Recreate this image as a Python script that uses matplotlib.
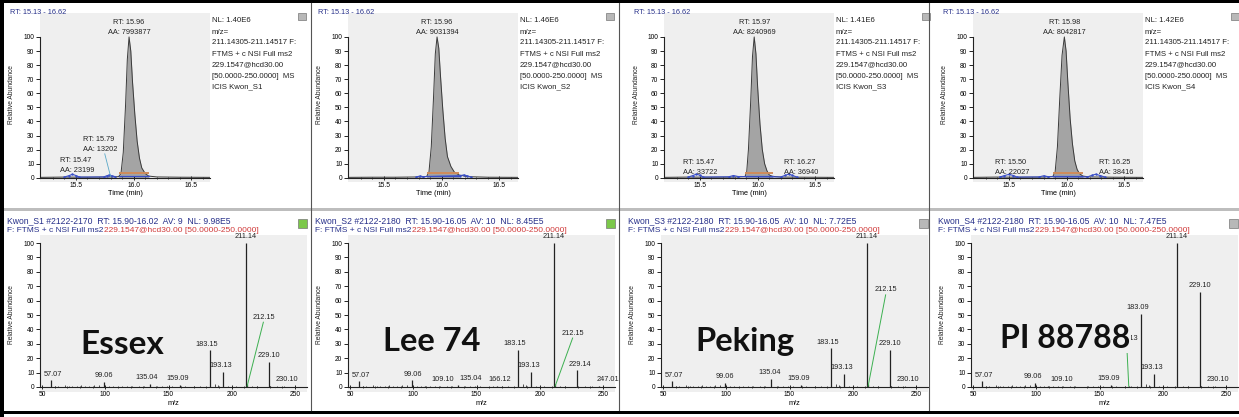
import matplotlib.pyplot as plt
from matplotlib.patches import Rectangle
from matplotlib.lines import Line2D

W, H = 1239, 417
SMALL = 'Liberation Sans'

# ====================== CHROMATOGRAMS (top row) ======================
chrom_nl = ['1.40E6', '1.46E6', '1.41E6', '1.42E6']
chrom_rt = ['15.96', '15.96', '15.97', '15.98']
chrom_aa = ['7993877', '9031394', '8240969', '8042817']

chrom_t = [
    [15.19, 15.40, 15.60, 15.80, 15.87, 15.89, 15.91, 15.93, 15.945, 15.96, 15.975, 15.99, 16.01, 16.03, 16.05, 16.07, 16.10, 16.13, 16.20, 16.40, 16.66],
    [15.19, 15.40, 15.60, 15.80, 15.87, 15.89, 15.91, 15.93, 15.945, 15.96, 15.975, 15.99, 16.01, 16.03, 16.05, 16.08, 16.11, 16.15, 16.22, 16.40, 16.66],
    [15.19, 15.40, 15.60, 15.80, 15.89, 15.905, 15.92, 15.94, 15.955, 15.97, 15.985, 16.00, 16.02, 16.04, 16.06, 16.08, 16.10, 16.13, 16.20, 16.40, 16.66],
    [15.19, 15.40, 15.60, 15.80, 15.88, 15.90, 15.92, 15.94, 15.96, 15.98, 15.995, 16.01, 16.03, 16.05, 16.07, 16.09, 16.11, 16.14, 16.20, 16.40, 16.66],
]
chrom_i = [
    [0.3, 0.5, 0.4, 0.6, 0.8, 3, 18, 52, 84, 100, 90, 68, 45, 26, 14, 7, 3, 1.2, 0.6, 0.4, 0.3],
    [0.3, 0.4, 0.4, 0.6, 0.9, 4, 22, 58, 88, 100, 92, 72, 48, 28, 15, 8, 4, 2, 0.8, 0.4, 0.3],
    [0.3, 0.5, 0.4, 0.5, 0.8, 4, 20, 55, 86, 100, 88, 64, 38, 20, 10, 5, 2, 1, 0.5, 0.4, 0.3],
    [0.3, 0.5, 0.4, 0.5, 0.9, 4, 22, 56, 87, 100, 90, 68, 42, 24, 12, 6, 3, 1.2, 0.6, 0.4, 0.3],
]
# peak integration limits
chrom_lim = [(15.87, 16.13), (15.87, 16.15), (15.89, 16.13), (15.88, 16.14)]

# blue noise around baseline
noise_t = [
    [15.40, 15.44, 15.47, 15.50, 15.53, 15.74, 15.77, 15.79, 15.81, 15.84],
    [15.78, 15.81, 15.84, 16.16, 16.19, 16.22, 16.25],
    [15.40, 15.44, 15.47, 15.50, 15.53, 15.75, 15.79, 15.83, 16.20, 16.24, 16.27, 16.30, 16.34],
    [15.42, 15.46, 15.50, 15.54, 15.57, 15.76, 15.80, 15.84, 16.18, 16.22, 16.25, 16.29, 16.33],
]
noise_i = [
    [0.5, 1.5, 2.5, 1.6, 0.5, 0.6, 1.5, 2.0, 1.4, 0.8],
    [0.6, 1.2, 0.8, 1.5, 2.0, 1.4, 0.6],
    [0.5, 1.6, 2.6, 1.8, 0.5, 0.7, 1.6, 0.9, 0.6, 1.8, 2.6, 1.7, 0.5],
    [0.5, 1.5, 2.4, 1.6, 0.5, 0.6, 1.4, 0.8, 0.6, 1.8, 2.5, 1.6, 0.5],
]

# minor peak annotations: (text1, text2, x, y)
minor_labels = [
    [('RT: 15.79', 'AA: 13202', 15.56, 27), ('RT: 15.47', 'AA: 23199', 15.36, 12)],
    [],
    [('RT: 15.47', 'AA: 33722', 15.35, 11), ('RT: 16.27', 'AA: 36940', 16.23, 11)],
    [('RT: 15.50', 'AA: 22027', 15.38, 11), ('RT: 16.25', 'AA: 38416', 16.28, 11)],
]

# ====================== SPECTRA (bottom row) ======================
varieties = ['Essex', 'Lee 74', 'Peking', 'PI 88788']
variety_size = [24, 23.5, 23.5, 23]
variety_xy = [(0.308, 0.30), (0.315, 0.32), (0.315, 0.32), (0.354, 0.34)]
spec_head1 = [
    'Kwon_S1 #2122-2170  RT: 15.90-16.02  AV: 9  NL: 9.98E5',
    'Kwon_S2 #2122-2180  RT: 15.90-16.05  AV: 10  NL: 8.45E5',
    'Kwon_S3 #2122-2180  RT: 15.90-16.05  AV: 10  NL: 7.72E5',
    'Kwon_S4 #2122-2180  RT: 15.90-16.05  AV: 10  NL: 7.47E5',
]

spec_mz = [
    [57.07, 99.06, 135.04, 159.09, 183.15, 193.13, 211.14, 212.15, 229.10, 230.10],
    [57.07, 99.06, 109.10, 135.04, 166.12, 183.15, 193.13, 211.14, 212.15, 229.14, 247.01],
    [57.07, 99.06, 135.04, 159.09, 183.15, 193.13, 211.14, 212.15, 229.10, 230.10],
    [57.07, 99.06, 109.10, 159.09, 173.13, 183.09, 193.13, 211.14, 229.10, 230.10],
]
spec_int = [
    [4.6, 3.5, 2.3, 1.5, 25.6, 10.5, 100, 2.0, 17.4, 1.0],
    [4.0, 4.5, 1.0, 1.5, 1.0, 25.8, 10.5, 100, 2.0, 11.7, 1.0],
    [4.0, 3.0, 5.8, 1.5, 26.8, 9.3, 100, 2.0, 26.0, 1.0],
    [4.0, 3.0, 1.0, 1.5, 1.0, 51.0, 9.3, 100, 66.0, 1.0],
]
spec_label_x = [
    {57.07: 59, 135.04: 133, 159.09: 157, 183.15: 180, 193.13: 191, 230.10: 244},
    {57.07: 59, 99.06: 100, 109.10: 123, 135.04: 145, 166.12: 168, 183.15: 180, 193.13: 191, 229.14: 232, 247.01: 254},
    {57.07: 59, 135.04: 134, 159.09: 157, 183.15: 180, 193.13: 191, 230.10: 244},
    {57.07: 59, 99.06: 97, 109.10: 120, 159.09: 157, 183.09: 180, 193.13: 191, 230.10: 244},
]
# labels displaced with a green leader: (mz, label x, label y)
spec_leader = [(212.15, 225, 46), (212.15, 226, 35), (212.15, 226, 65), (173.13, 171.5, 31)]

noise_mz = [60.5, 63, 68, 71, 74, 78, 81, 84, 87, 91, 95, 103, 106, 113, 117, 121, 127, 131, 141, 145, 149, 153, 163, 170, 175, 187, 189, 197, 203, 216, 220, 236, 241]
noise_int = [0.8, 0.6, 1.2, 0.7, 1.0, 0.6, 1.5, 1.0, 0.8, 1.4, 1.1, 0.7, 0.6, 0.9, 0.7, 1.0, 0.8, 0.6, 0.7, 0.9, 0.6, 0.5, 0.6, 0.5, 0.7, 2.0, 1.2, 0.6, 0.5, 0.5, 0.6, 0.4, 0.4]

top_off = [0, 308, 624, 933]
bot_off = [0, 308, 621, 931]


def px_axes(fig, x0, y0, x1, y1):
    return fig.add_axes([x0 / W, 1 - y1 / H, (x1 - x0) / W, (y1 - y0) / H])


def style_axes(ax):
    ax.set_facecolor('#efefef')
    for s in ['top', 'right']:
        ax.spines[s].set_visible(False)
    ax.spines['left'].set_bounds(0, 100)
    ax.spines['bottom'].set_position(('data', 0))
    for s in ['left', 'bottom']:
        ax.spines[s].set_linewidth(0.8)
        ax.spines[s].set_color('#222222')
    ax.set_yticks(range(0, 101, 10))
    ax.tick_params(axis='y', direction='out', length=3, width=0.6, labelsize=4.8, pad=1)
    ax.tick_params(axis='x', direction='inout', length=3, width=0.6, labelsize=4.8, pad=1.5)
    ax.tick_params(axis='x', which='minor', direction='inout', length=2, width=0.5)
    for lab in ax.get_xticklabels() + ax.get_yticklabels():
        lab.set_family(SMALL)


fig = plt.figure(figsize=(W / 100, H / 100), dpi=100)

for k in range(4):
    ox = top_off[k]
    ax = px_axes(fig, ox + 40, 13, ox + 210, 182)
    ax.set_xlim(15.19, 16.66)
    ax.set_ylim(-3, 117)
    ax.set_xticks([15.5, 16.0, 16.5])
    ax.set_xticklabels(['15.5', '16.0', '16.5'])
    ax.set_xticks([15.3, 15.4, 15.6, 15.7, 15.8, 15.9, 16.1, 16.2, 16.3, 16.4, 16.6], minor=True)
    style_axes(ax)
    t, y = chrom_t[k], chrom_i[k]
    lo, hi = chrom_lim[k]
    ax.fill_between(t, y, 0, where=[lo <= v <= hi for v in t], color='#a4a4a4', lw=0)
    ax.plot(t, y, color='#3a3a3a', lw=0.7)
    ax.plot([lo, hi], [3.5, 3.5], color='#d08c5a', lw=1.4, solid_capstyle='butt')
    ax.plot([lo, hi], [1.0, 1.0], color='#3a4fc8', lw=0.9)
    ax.plot(noise_t[k], noise_i[k], color='#3a4fc8', lw=0.8, marker='.', ms=1.5)
    ax.text(float(chrom_rt[k]), 110, 'RT: ' + chrom_rt[k], ha='center', va='center', fontsize=5.3, family=SMALL, color='#222222')
    ax.text(float(chrom_rt[k]), 103, 'AA: ' + chrom_aa[k], ha='center', va='center', fontsize=5.3, family=SMALL, color='#222222')
    for t1, t2, lx, ly in minor_labels[k]:
        ax.text(lx, ly, t1, ha='left', va='center', fontsize=5.3, family=SMALL, color='#222222')
        ax.text(lx, ly - 7, t2, ha='left', va='center', fontsize=5.3, family=SMALL, color='#222222')
    if k == 0:
        ax.plot([15.75, 15.80], [17, 1], color='#5aa8c8', lw=0.6)
    ax.set_xlabel('Time (min)', fontsize=5.3, family=SMALL, labelpad=1)
    fig.text((ox + 12) / W, 1 - 95 / H, 'Relative Abundance', rotation=90, ha='center', va='center',
             fontsize=4.8, family=SMALL, color='#222222')
    fig.text((ox + 10) / W, 1 - 13 / H, 'RT: 15.13 - 16.62', ha='left', va='center', fontsize=5.3,
             family=SMALL, color='#27308a')
    block = ['NL: ' + chrom_nl[k], 'm/z=', '211.14305-211.14517 F:', 'FTMS + c NSI Full ms2',
             '229.1547@hcd30.00', '[50.0000-250.0000]  MS', 'ICIS Kwon_S%d' % (k + 1)]
    for j, line in enumerate(block):
        fig.text((ox + 212) / W, 1 - (21 + 11 * j) / H, line, ha='left', va='center', fontsize=5.6,
                 family=SMALL, color='#222222')
    fig.patches.append(Rectangle(((ox + 298) / W, 1 - 20 / H), 8 / W, 7 / H, transform=fig.transFigure,
                                 facecolor='#b8b8b8', edgecolor='#777777', lw=0.5))

for k in range(4):
    ox = bot_off[k]
    ax = px_axes(fig, ox + 40, 235, ox + 307, 392)
    ax.set_xlim(48.4, 259.5)
    ax.set_ylim(-3.5, 105.6)
    ax.set_xticks([50, 100, 150, 200, 250])
    ax.set_xticks(range(60, 250, 10), minor=True)
    style_axes(ax)
    ax.vlines(noise_mz, 0, noise_int, color='#333333', lw=0.6)
    ax.vlines(spec_mz[k], 0, spec_int[k], color='#222222', lw=0.9)
    lead_mz, lead_x, lead_y = spec_leader[k]
    for mz, inten in zip(spec_mz[k], spec_int[k]):
        lab = '%.2f' % mz
        if mz == lead_mz:
            ax.plot([mz, lead_x], [0.5, lead_y - 1], color='#3cb050', lw=0.7)
            ax.text(lead_x, lead_y, lab, ha='center', va='bottom', fontsize=5.3, family=SMALL,
                    color='#222222', zorder=2)
            continue
        lx = spec_label_x[k].get(mz, mz)
        ax.text(lx, inten + 1.8, lab, ha='center', va='bottom', fontsize=5.3, family=SMALL,
                color='#222222', clip_on=False)
    vx, vy = variety_xy[k]
    ax.text(vx, vy, varieties[k], transform=ax.transAxes, ha='center', va='center',
            fontsize=variety_size[k], family='Lato', weight='bold', color='#111111', zorder=5,
            bbox=dict(facecolor='#efefef', edgecolor='none', pad=0.3) if k == 3 else None)
    ax.set_xlabel('m/z', fontsize=5.3, family=SMALL, labelpad=1)
    fig.text((ox + 12) / W, 1 - 315 / H, 'Relative Abundance', rotation=90, ha='center', va='center',
             fontsize=4.8, family=SMALL, color='#222222')
    fig.text((ox + 7) / W, 1 - 221 / H, spec_head1[k], ha='left', va='center', fontsize=6.2,
             family=SMALL, color='#27308a')
    fig.text((ox + 7) / W, 1 - 230 / H, 'F: FTMS + c NSI Full ms2', ha='left', va='center', fontsize=6.0,
             family=SMALL, color='#27308a')
    fig.text((ox + 104) / W, 1 - 230 / H, '229.1547@hcd30.00 [50.0000-250.0000]', ha='left', va='center',
             fontsize=6.0, family=SMALL, color='#d03a3a')
    icon_col = '#7cc84a' if k < 2 else '#b8b8b8'
    fig.patches.append(Rectangle(((ox + 298) / W, 1 - 228 / H), 9 / W, 9 / H, transform=fig.transFigure,
                                 facecolor=icon_col, edgecolor='#777777', lw=0.5))

# panel frame and separators
for x in [311, 619, 929]:
    fig.add_artist(Line2D([x / W, x / W], [1 - 410 / H, 1 - 3 / H], color='#555555', lw=0.8))
fig.add_artist(Rectangle((0, 1 - 211 / H), 1, 3 / H, transform=fig.transFigure, facecolor='#bdbdbd', lw=0))
fig.add_artist(Rectangle((0, 1 - 3 / H), 1, 3 / H, transform=fig.transFigure, facecolor='black', lw=0))
fig.add_artist(Rectangle((0, 1 - 414 / H), 1, 3 / H, transform=fig.transFigure, facecolor='black', lw=0))
fig.add_artist(Rectangle((0, 0), 4 / W, 1, transform=fig.transFigure, facecolor='black', lw=0))

fig.savefig('out.png', dpi=100)
